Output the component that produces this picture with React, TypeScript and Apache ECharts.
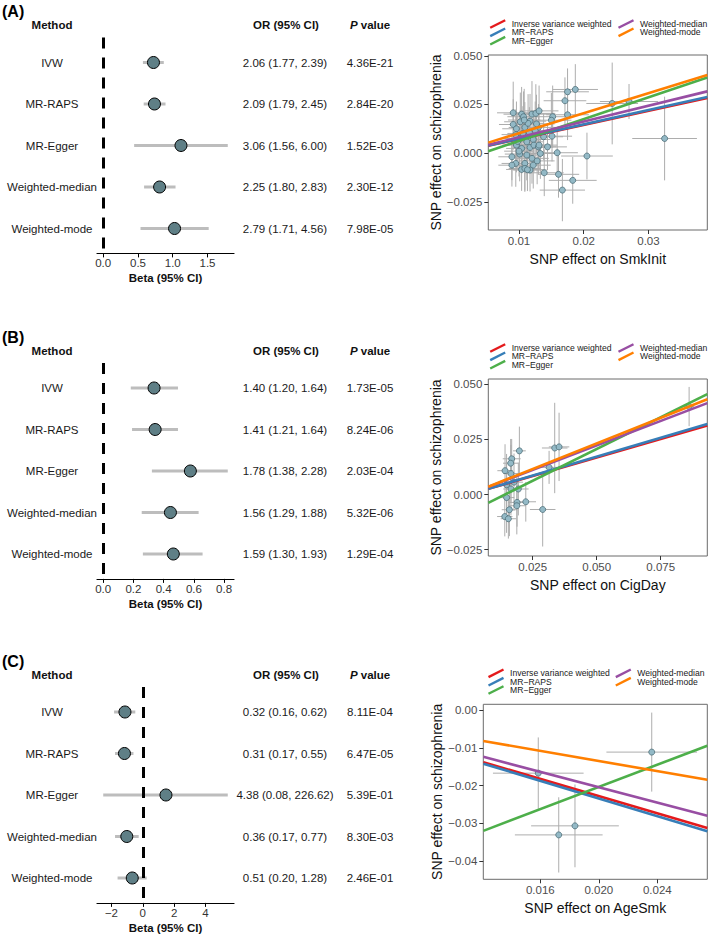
import React, { useEffect, useRef } from "react";
import * as echarts from "echarts";

const FONT = '"Liberation Sans", Arial, Helvetica, sans-serif';

const methods = ["IVW", "MR-RAPS", "MR-Egger", "Weighted-median", "Weighted-mode"];
const legendNames = ["Inverse variance weighted", "MR\u2212RAPS", "MR\u2212Egger", "Weighted-median", "Weighted-mode"];
const lineColors = ["#E41A1C", "#377EB8", "#4DAF4A", "#984EA3", "#FF7F00"];

// ---------- Panel A (SmkInit) ----------
const orA = [2.06, 2.09, 3.06, 2.25, 2.79];
const loA = [1.77, 1.79, 1.56, 1.8, 1.71];
const hiA = [2.39, 2.45, 6.0, 2.83, 4.56];
const pA = ["4.36E-21", "2.84E-20", "1.52E-03", "2.30E-12", "7.98E-05"];
const eggerInterceptA = -0.0049;
const forestTicksA = [0, 0.5, 1, 1.5];
const forestLabelsA = ["0.0", "0.5", "1.0", "1.5"];
const snpAx = [0.0091, 0.0104, 0.0107, 0.012, 0.0126, 0.0131, 0.0117, 0.0102, 0.0091, 0.0096, 0.0109, 0.013, 0.0125, 0.0116, 0.0106, 0.0138, 0.0101, 0.0122, 0.0112, 0.0096, 0.0104, 0.0117, 0.0123, 0.0089, 0.0101, 0.0112, 0.012, 0.0095, 0.0089, 0.0109, 0.0122, 0.0104, 0.0109, 0.0117, 0.0133, 0.013, 0.0114, 0.0131, 0.0139, 0.0144, 0.0151, 0.0152, 0.015, 0.0159, 0.0161, 0.0167, 0.0183, 0.0205, 0.0187, 0.0175, 0.0171, 0.0175, 0.0244, 0.027, 0.0325, 0.0095, 0.0108, 0.01, 0.0128, 0.0113, 0.0098, 0.0127];
const snpAy = [0.0207, 0.02, 0.0187, 0.02, 0.0204, 0.0217, 0.0164, 0.0161, 0.0147, 0.0125, 0.0132, 0.0132, 0.0115, 0.0106, 0.0101, 0.0084, 0.0075, 0.007, 0.0058, 0.0041, 0.0024, 0.0029, 0.0041, -0.0019, -0.0005, -0.001, -0.0027, -0.0053, -0.0062, -0.0053, -0.0062, -0.0084, -0.0079, -0.0087, -0.0002, 0.0032, 0.0153, 0.0041, -0.0101, 0.0032, 0.0087, 0.0187, 0.0169, 0.0002, -0.0109, -0.019, -0.014, -0.0015, 0.0327, 0.0315, 0.0269, 0.0197, 0.0255, 0.0265, 0.0075, 0.0095, 0.017, 0.001, -0.004, -0.0085, 0.006, 0.015];
const snpAxe = [0.0025, 0.0028, 0.0025, 0.003, 0.003, 0.003, 0.0025, 0.0025, 0.0022, 0.0022, 0.0025, 0.0028, 0.0026, 0.0025, 0.0024, 0.003, 0.0023, 0.0026, 0.0025, 0.0022, 0.0024, 0.0026, 0.0027, 0.0021, 0.0023, 0.0025, 0.0026, 0.0022, 0.0021, 0.0025, 0.0027, 0.0024, 0.0025, 0.0026, 0.0029, 0.0028, 0.0025, 0.0028, 0.003, 0.003, 0.0031, 0.0031, 0.0031, 0.0032, 0.0032, 0.0035, 0.0037, 0.004, 0.0035, 0.0033, 0.0033, 0.0033, 0.004, 0.0045, 0.005, 0.0022, 0.0025, 0.0023, 0.0027, 0.0025, 0.0023, 0.0028];
const snpAye = [0.016, 0.014, 0.013, 0.017, 0.015, 0.013, 0.014, 0.015, 0.013, 0.014, 0.013, 0.012, 0.015, 0.013, 0.014, 0.012, 0.013, 0.015, 0.013, 0.014, 0.013, 0.012, 0.014, 0.012, 0.014, 0.013, 0.013, 0.012, 0.011, 0.014, 0.012, 0.011, 0.012, 0.011, 0.013, 0.014, 0.015, 0.012, 0.012, 0.012, 0.013, 0.016, 0.014, 0.012, 0.012, 0.016, 0.012, 0.012, 0.013, 0.012, 0.012, 0.013, 0.021, 0.009, 0.0215, 0.013, 0.016, 0.013, 0.012, 0.011, 0.014, 0.015];
const xTicksA = [0.01, 0.02, 0.03];
const xLabelsA = ["0.01", "0.02", "0.03"];
const yTicksA = [-0.025, 0, 0.025, 0.05];
const yLabelsA = ["\u22120.025", "0.000", "0.025", "0.050"];

// ---------- Panel B (CigDay) ----------
const orB = [1.4, 1.41, 1.78, 1.56, 1.59];
const loB = [1.2, 1.21, 1.38, 1.29, 1.3];
const hiB = [1.64, 1.64, 2.28, 1.88, 1.93];
const pB = ["1.73E-05", "8.24E-06", "2.03E-04", "5.32E-06", "1.29E-04"];
const eggerInterceptB = -0.0082;
const forestTicksB = [0, 0.2, 0.4, 0.6, 0.8];
const forestLabelsB = ["0.0", "0.2", "0.4", "0.6", "0.8"];
const snpBx = [0.0142, 0.0168, 0.0164, 0.0165, 0.0198, 0.0177, 0.0148, 0.0165, 0.0194, 0.0148, 0.0189, 0.0223, 0.0188, 0.0159, 0.0289, 0.0141, 0.0155, 0.0314, 0.0336, 0.0353, 0.0861];
const snpBy = [0.0108, 0.0162, 0.0142, 0.0095, 0.0198, 0.0056, 0.0044, 0.0025, 0.0025, -0.0014, -0.0036, -0.0033, -0.0051, -0.0069, -0.0068, -0.01, -0.011, 0.0123, 0.0211, 0.0216, 0.0399];
const snpBxe = [0.003, 0.0035, 0.003, 0.003, 0.0025, 0.0035, 0.003, 0.003, 0.004, 0.003, 0.0035, 0.004, 0.0035, 0.003, 0.005, 0.003, 0.003, 0.004, 0.005, 0.004, 0.002];
const snpBye = [0.012, 0.009, 0.011, 0.013, 0.011, 0.013, 0.014, 0.012, 0.012, 0.016, 0.011, 0.009, 0.013, 0.012, 0.0168, 0.009, 0.009, 0.0075, 0.0205, 0.0155, 0.0089];
const xTicksB = [0.025, 0.05, 0.075];
const xLabelsB = ["0.025", "0.050", "0.075"];
const yTicksB = [-0.025, 0, 0.025, 0.05];
const yLabelsB = ["\u22120.025", "0.000", "0.025", "0.050"];

// ---------- Panel C (AgeSmk) ----------
const orC = [0.32, 0.31, 4.38, 0.36, 0.51];
const loC = [0.16, 0.17, 0.08, 0.17, 0.2];
const hiC = [0.62, 0.55, 226.62, 0.77, 1.28];
const pC = ["8.11E-04", "6.47E-05", "5.39E-01", "8.30E-03", "2.46E-01"];
const eggerInterceptC = -0.0499;
const forestTicksC = [-2, 0, 2, 4];
const forestLabelsC = ["\u22122", "0", "2", "4"];
const snpCx = [0.01586, 0.01726, 0.01837, 0.02362];
const snpCy = [-0.0167, -0.0331, -0.0307, -0.0111];
const snpCxe = [0.0031, 0.003, 0.003, 0.0031];
const snpCye = [0.0095, 0.01, 0.011, 0.0105];
const xTicksC = [0.016, 0.02, 0.024];
const xLabelsC = ["0.016", "0.020", "0.024"];
const yTicksC = [-0.04, -0.03, -0.02, -0.01, 0];
const yLabelsC = ["\u22120.04", "\u22120.03", "\u22120.02", "\u22120.01", "0.00"];

const ROW_GAP = 41.5;

const PANELS = [
  {
    tag: "(A)", row1: 62.5, or: orA, lo: loA, hi: hiA, p: pA, egger: eggerInterceptA,
    fTicks: forestTicksA, fLabels: forestLabelsA,
    sx: snpAx, sy: snpAy, sxe: snpAxe, sye: snpAye,
    sLeft: 488.3, sTop: 55, sW: 219, sH: 175,
    xMin: 0.00525, xMax: 0.0391, yMin: -0.0395, yMax: 0.0504,
    xTicks: xTicksA, xLabels: xLabelsA, yTicks: yTicksA, yLabels: yLabelsA,
    xName: "SNP effect on SmkInit", yGap: 40, legX: [511.7, 640],
  },
  {
    tag: "(B)", row1: 388, or: orB, lo: loB, hi: hiB, p: pB, egger: eggerInterceptB,
    fTicks: forestTicksB, fLabels: forestLabelsB,
    sx: snpBx, sy: snpBy, sxe: snpBxe, sye: snpBye,
    sLeft: 488.3, sTop: 379, sW: 219, sH: 177,
    xMin: 0.00766, xMax: 0.0932, yMin: -0.0279, yMax: 0.0524,
    xTicks: xTicksB, xLabels: xLabelsB, yTicks: yTicksB, yLabels: yLabelsB,
    xName: "SNP effect on CigDay", yGap: 40, legX: [511.7, 640],
  },
  {
    tag: "(C)", row1: 712, or: orC, lo: loC, hi: hiC, p: pC, egger: eggerInterceptC,
    fTicks: forestTicksC, fLabels: forestLabelsC,
    sx: snpCx, sy: snpCy, sxe: snpCxe, sye: snpCye,
    sLeft: 483.3, sTop: 704.3, sW: 224, sH: 175,
    xMin: 0.0121, xMax: 0.02742, yMin: -0.0449, yMax: 0.0016,
    xTicks: xTicksC, xLabels: xLabelsC, yTicks: yTicksC, yLabels: yLabelsC,
    xName: "SNP effect on AgeSmk", yGap: 38, legX: [510, 637.3],
  },
];

function fmt(ticks: number[], labels: string[]) {
  return (v: number) => {
    const i = ticks.findIndex((t) => Math.abs(t - v) < 1e-9);
    return i >= 0 ? labels[i] : "";
  };
}

function buildOption() {
  const grid: any[] = [];
  const xAxis: any[] = [];
  const yAxis: any[] = [];
  const series: any[] = [];
  const graphic: any[] = [];

  PANELS.forEach((P, k) => {
    const fi = 2 * k;
    const si = 2 * k + 1;
    const beta = P.or.map((v) => Math.log(v));
    const lo = P.lo.map((v) => Math.log(v));
    const hi = P.hi.map((v) => Math.log(v));
    const dmin = Math.min(0, ...lo);
    const dmax = Math.max(0, ...hi);
    const ex = (dmax - dmin) * 0.05;
    const fTop = P.row1 - 0.6 * ROW_GAP;

    grid.push({ left: 97, top: fTop, width: 137, height: 5.2 * ROW_GAP });
    grid.push({ left: P.sLeft, top: P.sTop, width: P.sW, height: P.sH, show: true, borderColor: "#6b6b6b", borderWidth: 1, backgroundColor: "transparent" });

    xAxis.push({
      gridIndex: fi, type: "value", min: dmin - ex, max: dmax + ex,
      axisLine: { show: true, onZero: false, lineStyle: { color: "#000", width: 1.2 } },
      axisTick: { show: true, length: 4, lineStyle: { color: "#000", width: 1 }, customValues: P.fTicks },
      axisLabel: { customValues: P.fTicks, formatter: fmt(P.fTicks, P.fLabels), color: "#333", fontSize: 11.5, fontFamily: FONT, margin: 4 },
      splitLine: { show: false },
      name: "Beta (95% CI)", nameLocation: "middle", nameGap: 19,
      nameTextStyle: { fontWeight: "bold", fontSize: 11.5, color: "#111", fontFamily: FONT },
    });
    yAxis.push({ gridIndex: fi, type: "value", min: 0.4, max: 5.6, inverse: true, show: false });

    xAxis.push({
      gridIndex: si, type: "value", min: P.xMin, max: P.xMax,
      axisLine: { show: false, onZero: false },
      axisTick: { show: true, length: 4, lineStyle: { color: "#333", width: 1 }, customValues: P.xTicks },
      axisLabel: { customValues: P.xTicks, formatter: fmt(P.xTicks, P.xLabels), color: "#4d4d4d", fontSize: 11.5, fontFamily: FONT, margin: 5 },
      splitLine: { show: false },
      name: P.xName, nameLocation: "middle", nameGap: 22,
      nameTextStyle: { fontSize: 14, color: "#111", fontFamily: FONT },
    });
    yAxis.push({
      gridIndex: si, type: "value", min: P.yMin, max: P.yMax,
      axisLine: { show: false, onZero: false },
      axisTick: { show: true, length: 4, lineStyle: { color: "#333", width: 1 }, customValues: P.yTicks },
      axisLabel: { customValues: P.yTicks, formatter: fmt(P.yTicks, P.yLabels), color: "#4d4d4d", fontSize: 11.5, fontFamily: FONT, margin: 6 },
      splitLine: { show: false },
      name: "SNP effect on schizophrenia", nameLocation: "middle", nameGap: P.yGap, nameRotate: 90,
      nameTextStyle: { fontSize: 14, color: "#111", fontFamily: FONT },
    });

    // Forest CI bars + table text
    const pTexts = P.p;
    const orTexts = P.or.map((v, i) => `${v.toFixed(2)} (${P.lo[i].toFixed(2)}, ${P.hi[i].toFixed(2)})`);
    series.push({
      type: "custom", xAxisIndex: fi, yAxisIndex: fi, z: 2, clip: false,
      data: beta.map((b, i) => [lo[i], hi[i], i + 1]),
      encode: { x: [0, 1], y: 2 },
      renderItem: (params: any, api: any) => {
        const i = params.dataIndex;
        const a = api.coord([api.value(0), api.value(2)]);
        const c = api.coord([api.value(1), api.value(2)]);
        const ts = (text: string, x: number) => ({
          type: "text", x, y: a[1],
          style: { text, fill: "#1a1a1a", fontSize: 11.5, fontFamily: FONT, align: "center", verticalAlign: "middle" },
        });
        return {
          type: "group",
          children: [
            { type: "line", shape: { x1: a[0], y1: a[1], x2: c[0], y2: c[1] }, style: { stroke: "#BDBDBD", lineWidth: 3 } },
            ts(methods[i], 52),
            ts(orTexts[i], 285),
            ts(pTexts[i], 370),
          ],
        };
      },
    });
    // Forest points + zero line
    series.push({
      type: "scatter", xAxisIndex: fi, yAxisIndex: fi, z: 10,
      data: beta.map((b, i) => [b, i + 1]),
      symbol: "circle", symbolSize: 12,
      itemStyle: { color: "#5F7F86", borderColor: "#000", borderWidth: 1, opacity: 1 },
      markLine: {
        silent: true, symbol: ["none", "none"], z: 5,
        label: { show: false },
        lineStyle: { color: "#000", width: 3, type: [11, 9] },
        data: [{ xAxis: 0 }],
      },
    });

    // Scatter error bars
    series.push({
      type: "custom", xAxisIndex: si, yAxisIndex: si, z: 2, clip: true,
      data: P.sx.map((x, i) => [x, P.sy[i], P.sxe[i], P.sye[i]]),
      encode: { x: 0, y: 1 },
      renderItem: (params: any, api: any) => {
        const x = api.value(0), y = api.value(1), xe = api.value(2), ye = api.value(3);
        const h1 = api.coord([x - xe, y]);
        const h2 = api.coord([x + xe, y]);
        const v1 = api.coord([x, y - ye]);
        const v2 = api.coord([x, y + ye]);
        const st = { stroke: "#ADADAD", lineWidth: 1 };
        return {
          type: "group",
          children: [
            { type: "line", shape: { x1: h1[0], y1: h1[1], x2: h2[0], y2: h2[1] }, style: st },
            { type: "line", shape: { x1: v1[0], y1: v1[1], x2: v2[0], y2: v2[1] }, style: st },
          ],
        };
      },
    });
    series.push({
      type: "scatter", xAxisIndex: si, yAxisIndex: si, z: 3,
      data: P.sx.map((x, i) => [x, P.sy[i]]),
      symbol: "circle", symbolSize: 6,
      itemStyle: { color: "#93B9C6", borderColor: "#4E6E78", borderWidth: 0.8, opacity: 1 },
    });
    // Regression lines
    beta.forEach((b, m) => {
      const a0 = m === 2 ? P.egger : 0;
      series.push({
        type: "line", xAxisIndex: si, yAxisIndex: si, z: 4 + m * 0.1,
        data: [[P.xMin, a0 + b * P.xMin], [P.xMax, a0 + b * P.xMax]],
        symbol: "none", showSymbol: false,
        lineStyle: { color: lineColors[m], width: 2.6 },
      });
    });

    // Panel tag and headers
    const headY = P.row1 - 37.5;
    graphic.push({ type: "text", x: 2, y: P.row1 - 51, style: { text: P.tag, fill: "#000", fontSize: 16, fontWeight: "bold", fontFamily: FONT, align: "left", verticalAlign: "middle" } });
    graphic.push({ type: "text", x: 52, y: headY, style: { text: "Method", fill: "#111", fontSize: 11.5, fontWeight: "bold", fontFamily: FONT, align: "center", verticalAlign: "middle" } });
    graphic.push({ type: "text", x: 286, y: headY, style: { text: "OR (95% CI)", fill: "#111", fontSize: 11.5, fontWeight: "bold", fontFamily: FONT, align: "center", verticalAlign: "middle" } });
    graphic.push({
      type: "text", x: 370, y: headY,
      style: {
        text: "{i|P} {b|value}", fill: "#111", fontSize: 11.5, fontWeight: "bold", fontFamily: FONT, align: "center", verticalAlign: "middle",
        rich: {
          i: { fontStyle: "italic", fontWeight: "bold", fontSize: 11.5, fontFamily: FONT, fill: "#111" },
          b: { fontWeight: "bold", fontSize: 11.5, fontFamily: FONT, fill: "#111" },
        },
      },
    });

    // Legend
    const legRows = [0, 1, 2, 0, 1];
    const legCols = [0, 0, 0, 1, 1];
    legendNames.forEach((name, m) => {
      const tx = P.legX[legCols[m]];
      const ty = P.sTop - 31 + legRows[m] * 8.35;
      const cx = tx - 14;
      graphic.push({ type: "line", shape: { x1: cx - 7.5, y1: ty + 3.8, x2: cx + 7.5, y2: ty - 3.8 }, style: { stroke: lineColors[m], lineWidth: 2.4 } });
      graphic.push({ type: "text", x: tx, y: ty, style: { text: name, fill: "#1a1a1a", fontSize: 8.6, fontFamily: FONT, align: "left", verticalAlign: "middle" } });
    });
  });

  return {
    animation: false,
    backgroundColor: "#fff",
    textStyle: { fontFamily: FONT },
    grid, xAxis, yAxis, series, graphic,
  };
}

export default function App() {
  const ref = useRef<HTMLDivElement>(null);
  useEffect(() => {
    const chart = echarts.init(ref.current!, null, { renderer: "svg" });
    chart.setOption(buildOption() as any);
    return () => chart.dispose();
  }, []);
  return <div ref={ref} style={{ position: "absolute", left: 0, top: 0, width: 709, height: 938, background: "#fff" }} />;
}
